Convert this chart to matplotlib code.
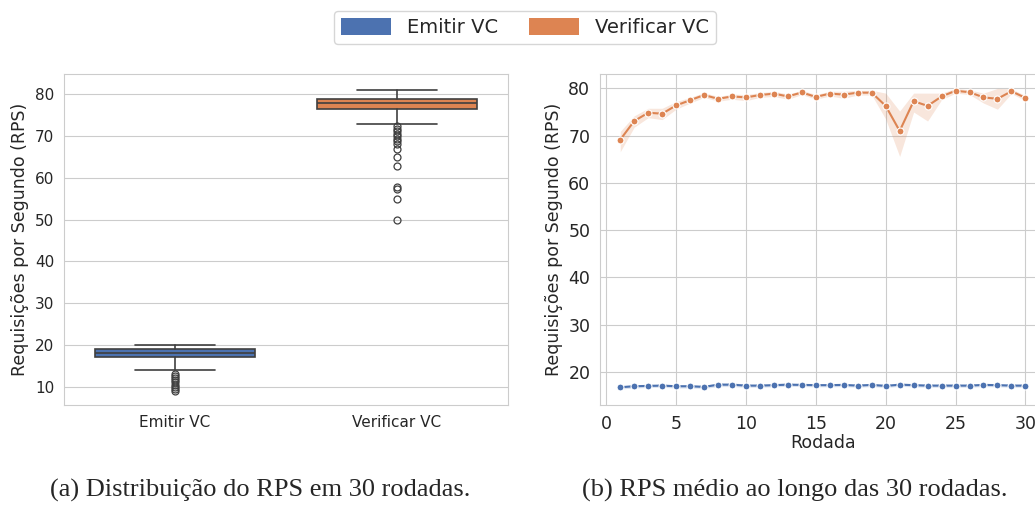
import matplotlib
matplotlib.use('Agg')
import matplotlib.pyplot as plt
from matplotlib.patches import Patch
import seaborn as sns
import numpy as np

sns.set_style('whitegrid')
plt.rcParams['font.family'] = ['DejaVu Sans']

labels = ['Emitir VC', 'Verificar VC']
colors = ['#4C72B0', '#DD8452']

# box plot stats
box_med = [18.0, 77.9]
box_q1 = [17.0, 76.5]
box_q3 = [19.0, 78.9]
box_wlo = [14.0, 73.0]
box_whi = [20.0, 81.0]
fliers_emitir = [13.0, 12.5, 12.0, 11.5, 11.0, 10.5, 10.0, 9.5, 9.0]
fliers_verificar = [72.3, 71.8, 71.2, 70.6, 70.0, 69.4, 68.8, 68.0, 67.0,
                    64.9, 62.9, 57.9, 57.4, 55.0, 49.9]

# mean RPS per round (panel b)
rodada = list(range(1, 31))
emitir_mean = [16.76, 16.97, 17.04, 17.1, 16.97, 16.97, 16.83, 17.3, 17.3, 17.1,
               17.1, 17.2, 17.3, 17.25, 17.2, 17.2, 17.25, 17.1, 17.25, 17.04,
               17.3, 17.2, 17.1, 17.1, 17.1, 17.1, 17.25, 17.2, 17.1, 17.1]
emitir_lo = [16.4, 16.6, 16.7, 16.75, 16.6, 16.6, 16.5, 16.9, 16.9, 16.75,
             16.75, 16.85, 16.95, 16.9, 16.85, 16.85, 16.9, 16.75, 16.9, 16.7,
             16.95, 16.85, 16.75, 16.75, 16.75, 16.75, 16.9, 16.85, 16.75, 16.75]
emitir_hi = [17.1, 17.3, 17.4, 17.45, 17.3, 17.3, 17.2, 17.7, 17.7, 17.45,
             17.45, 17.55, 17.65, 17.6, 17.55, 17.55, 17.6, 17.45, 17.6, 17.4,
             17.65, 17.55, 17.45, 17.45, 17.45, 17.45, 17.6, 17.55, 17.45, 17.45]
verificar_mean = [69.15, 73.1, 74.85, 74.65, 76.4, 77.5, 78.6, 77.8, 78.3, 78.1,
                  78.6, 78.9, 78.3, 79.15, 78.2, 78.9, 78.7, 79.1, 79.1, 76.3,
                  71.0, 77.3, 76.3, 78.3, 79.5, 79.2, 78.1, 77.8, 79.4, 78.0]
verificar_lo = [66.6, 71.8, 73.8, 73.4, 75.6, 76.9, 78.1, 77.3, 77.7, 77.4,
                78.1, 78.3, 77.7, 78.7, 77.7, 78.4, 77.9, 78.6, 78.6, 73.5,
                65.6, 75.0, 73.1, 77.6, 79.0, 78.7, 76.9, 75.6, 78.9, 77.4]
verificar_hi = [70.9, 74.2, 75.8, 75.8, 77.2, 78.1, 79.1, 78.3, 78.8, 78.7,
                79.1, 79.4, 78.8, 79.6, 78.7, 79.4, 79.4, 79.6, 79.6, 79.0,
                75.2, 79.0, 79.0, 79.0, 80.0, 79.7, 79.0, 80.0, 79.9, 78.5]

fig = plt.figure(figsize=(10.35, 5.05), dpi=100)
ax1 = fig.add_axes([0.0618, 0.198, 0.429, 0.655])
ax2 = fig.add_axes([0.5797, 0.198, 0.4306, 0.655])

# panel a: box plot
all_fliers = [fliers_emitir, fliers_verificar]
stats = []
for i in range(2):
    stats.append(dict(med=box_med[i], q1=box_q1[i], q3=box_q3[i],
                      whislo=box_wlo[i], whishi=box_whi[i], fliers=all_fliers[i]))
bp = ax1.bxp(stats, positions=[0, 1], widths=0.72, patch_artist=True,
             boxprops=dict(edgecolor='#3f3f3f', linewidth=1.2),
             medianprops=dict(color='#3f3f3f', linewidth=1.2),
             whiskerprops=dict(color='#3f3f3f', linewidth=1.2),
             capprops=dict(color='#3f3f3f', linewidth=1.2),
             flierprops=dict(marker='o', markerfacecolor='none',
                             markeredgecolor='#3f3f3f', markersize=5,
                             markeredgewidth=0.9))
for patch, c in zip(bp['boxes'], colors):
    patch.set_facecolor(c)
for cap in bp['caps']:
    xd = cap.get_xdata()
    mid = (xd[0] + xd[1]) / 2
    cap.set_xdata([mid - 0.18, mid + 0.18])
ax1.set_xlim(-0.5, 1.5)
ax1.set_ylim(5.6, 84.8)
ax1.set_xticks([0, 1])
ax1.set_xticklabels(labels, fontsize=11)
ax1.set_yticks(range(10, 81, 10))
ax1.tick_params(axis='y', labelsize=11)
ax1.set_ylabel('Requisições por Segundo (RPS)', fontsize=12.5)
ax1.xaxis.grid(False)

# panel b: line plot with CI band
ax2.fill_between(rodada, emitir_lo, emitir_hi, color=colors[0], alpha=0.2, linewidth=0)
ax2.fill_between(rodada, verificar_lo, verificar_hi, color=colors[1], alpha=0.2, linewidth=0)
ax2.plot(rodada, emitir_mean, color=colors[0], marker='o', markersize=5,
         markeredgecolor='white', markeredgewidth=0.8, linewidth=1.5)
ax2.plot(rodada, verificar_mean, color=colors[1], marker='o', markersize=5,
         markeredgecolor='white', markeredgewidth=0.8, linewidth=1.5)
ax2.set_xlim(-0.45, 31.45)
ax2.set_ylim(13.0, 83.0)
ax2.set_xticks(range(0, 31, 5))
ax2.set_yticks(range(20, 81, 10))
ax2.tick_params(labelsize=12.5)
ax2.set_xlabel('Rodada', fontsize=12.5, labelpad=1)
ax2.set_ylabel('Requisições por Segundo (RPS)', fontsize=12.5)

for ax in (ax1, ax2):
    for s in ax.spines.values():
        s.set_color('#cccccc')

handles = [Patch(facecolor=c, edgecolor='none') for c in colors]
fig.legend(handles, labels, loc='center', bbox_to_anchor=(0.507, 0.946), ncol=2,
           fontsize=14, frameon=True, handlelength=2.6, handleheight=1.0,
           columnspacing=1.6, edgecolor='#cccccc', borderpad=0.35)

fig.text(0.251, 0.029, '(a) Distribuição do RPS em 30 rodadas.', ha='center', va='center',
         fontsize=19, family='Liberation Serif')
fig.text(0.768, 0.029, '(b) RPS médio ao longo das 30 rodadas.', ha='center', va='center',
         fontsize=19, family='Liberation Serif')

fig.savefig('out.png', dpi=100)
